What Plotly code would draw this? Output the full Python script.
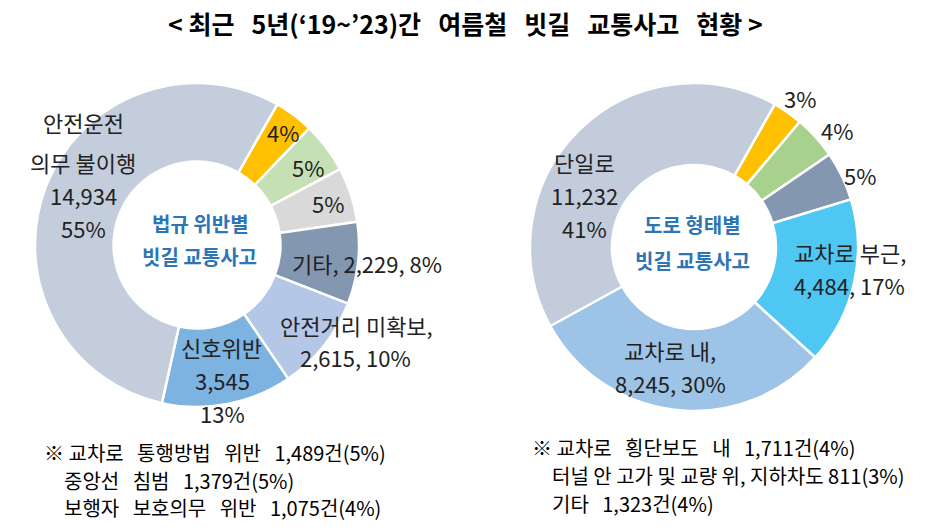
import plotly.graph_objects as go

# 법규 위반별 (clockwise from the small orange slice)
law_labels = ["보행자 보호의무 위반", "중앙선 침범", "교차로 통행방법 위반", "기타",
              "안전거리 미확보", "신호위반", "안전운전 의무 불이행"]
law_values = [1075, 1379, 1489, 2229, 2615, 3545, 14934]
law_pcts = [4, 5, 5, 8, 10, 13, 55]

# 도로 형태별
road_labels = ["터널 안 고가 및 교량 위, 지하차도", "교차로 횡단보도 내", "기타",
               "교차로 부근", "교차로 내", "단일로"]
road_values = [811, 1171, 1323, 4484, 8245, 11232]
road_pcts = [3, 4, 5, 17, 30, 41]

law_colors = ["#FFC000", "#C5E0B4", "#D9D9D9", "#8497B0", "#B4C7E7", "#7DB3E0", "#C4CDDB"]
road_colors = ["#FFC000", "#A9D18E", "#8497B0", "#4EC7F3", "#9DC3E6", "#C2CCDA"]

W, H = 926, 532
FONT = "Noto Sans CJK KR"
TEXT_COLOR = "#222222"
CENTER_COLOR = "#2E75B6"


def px(x):
    return x / W


def py(y):
    return 1 - y / H


def gap(n):
    """Run of n non-breaking spaces (word gaps in the source are wide)."""
    return "&nbsp;" * n


def slice_lines(template, value, pct):
    """Fill label line templates with the slice value and percent."""
    return [t.format(v=f"{value:,}", p=pct) for t in template]


fig = go.Figure()

# left donut: centre (197, 245), radius 162 px
fig.add_trace(go.Pie(
    labels=law_labels, values=law_values, sort=False, direction="clockwise",
    rotation=29.7, hole=0.515, textinfo="none", hoverinfo="label+value",
    marker={"colors": law_colors, "line": {"color": "white", "width": 2.5}},
    domain={"x": [px(35), px(359)], "y": [py(407), py(83)]},
    showlegend=False))

# right donut: centre (694, 247), radius 164 px
fig.add_trace(go.Pie(
    labels=road_labels, values=road_values, sort=False, direction="clockwise",
    rotation=29.5, hole=0.5, textinfo="none", hoverinfo="label+value",
    marker={"colors": road_colors, "line": {"color": "white", "width": 2.5}},
    domain={"x": [px(530), px(858)], "y": [py(411), py(83)]},
    showlegend=False))

# label line templates and pixel positions for each slice
law_text = [
    (["{p}%"], [(283, 132)]),
    (["{p}%"], [(308, 167)]),
    (["{p}%"], [(328, 203)]),
    (["기타, {v}, {p}%"], [(367, 263)]),
    (["안전거리 미확보,", "{v}, {p}%"], [(356, 325), (355, 357)]),
    (["신호위반", "{v}", "{p}%"], [(221, 347), (222, 380), (222, 413)]),
    (["안전운전", "의무 불이행", "{v}", "{p}%"], [(83, 122), (83, 162), (83, 195), (83, 228)]),
]
road_text = [
    (["{p}%"], [(800, 98)]),
    (["{p}%"], [(837, 130)]),
    (["{p}%"], [(860, 175)]),
    (["교차로 부근,", "{v}, {p}%"], [(850, 252), (849, 285)]),
    (["교차로 내,", "{v}, {p}%"], [(670, 350), (670, 383)]),
    (["단일로", "{v}", "{p}%"], [(584, 162), (584, 195), (584, 228)]),
]

annotations = []
for values, pcts, specs in [(law_values, law_pcts, law_text), (road_values, road_pcts, road_text)]:
    for (template, positions), v, p in zip(specs, values, pcts):
        for line, (x, y) in zip(slice_lines(template, v, p), positions):
            annotations.append(dict(
                x=px(x), y=py(y), xref="paper", yref="paper", text=line,
                showarrow=False, xanchor="center", yanchor="middle",
                font={"family": FONT, "size": 22, "color": TEXT_COLOR}))

# donut centre captions
for text, x, y in [("<b>법규 위반별</b>", 200, 223), ("<b>빗길 교통사고</b>", 199, 257),
                   ("<b>도로 형태별</b>", 692, 225), ("<b>빗길 교통사고</b>", 692, 260)]:
    annotations.append(dict(
        x=px(x), y=py(y), xref="paper", yref="paper", text=text, showarrow=False,
        xanchor="center", yanchor="middle",
        font={"family": FONT, "size": 20, "color": CENTER_COLOR}))

# title
title = gap(3).join(["&lt; 최근", "5년(‘19~’23)간", "여름철", "빗길", "교통사고", "현황 &gt;"])
annotations.append(dict(
    x=px(465), y=py(23), xref="paper", yref="paper", showarrow=False,
    xanchor="center", yanchor="middle", text=f"<b>{title}</b>",
    font={"family": FONT, "size": 25, "color": "#000000"}))

# footnotes
notes = [
    (["교차로", "통행방법", "위반", "1,489건(5%)"], True, 42, 452),
    (["중앙선", "침범", "1,379건(5%)"], False, 62, 480),
    (["보행자", "보호의무", "위반", "1,075건(4%)"], False, 62, 507),
    (["교차로", "횡단보도", "내", "1,711건(4%)"], True, 530, 447),
    (["터널 안 고가 및 교량 위, 지하차도 811(3%)"], False, 550, 475),
    (["기타", "1,323건(4%)"], False, 550, 503),
]
for words, marked, x, y in notes:
    text = gap(3).join(words)
    if marked:
        text = "※" + gap(1) + text
    annotations.append(dict(
        x=px(x), y=py(y), xref="paper", yref="paper", text=text,
        showarrow=False, xanchor="left", yanchor="middle",
        font={"family": FONT, "size": 20, "color": "#000000"}))

fig.update_layout(
    width=W, height=H, margin={"l": 0, "r": 0, "t": 0, "b": 0},
    paper_bgcolor="white", plot_bgcolor="white",
    annotations=annotations)

# page body has a default 8px margin; drop it so the figure sits at the window corner
fig.write_html("out.html", config={"displayModeBar": False},
               post_script="document.body.style.margin = '0';")
